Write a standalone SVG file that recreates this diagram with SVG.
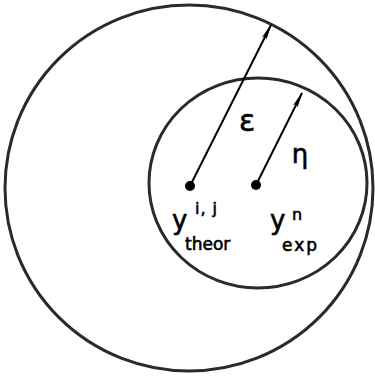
<svg xmlns="http://www.w3.org/2000/svg" width="375" height="380" viewBox="0 0 375 380">
<style>
.circ{fill:none;stroke:#2a2a2a;stroke-width:3}
.arr{stroke:#000;stroke-width:2;fill:none}
.t{font-family:"DejaVu Sans","Liberation Sans",sans-serif;fill:#000;stroke:#000;stroke-width:0.6}
</style>
<defs>
<marker id="ah" markerWidth="16" markerHeight="8" refX="15" refY="4" orient="auto" markerUnits="userSpaceOnUse" viewBox="0 0 16 8">
<path d="M0,1.5 L16,4 L0,6.5 L3,4 Z" fill="#000"/>
</marker>
</defs>
<rect width="375" height="380" fill="#fff"/>
<g id="outer"><ellipse class="circ" cx="189" cy="188" rx="184" ry="183"/></g>
<g id="inner"><ellipse class="circ" cx="258" cy="183" rx="109" ry="105"/></g>
<g id="connectors">
<line class="arr" x1="190" y1="186" x2="271" y2="25" marker-end="url(#ah)"/>
<line class="arr" x1="256" y1="185" x2="302" y2="93" marker-end="url(#ah)"/>
</g>
<g id="theor">
<circle cx="190" cy="186" r="5" fill="#000"/>
<text class="t" x="172" y="229" font-size="26">y</text>
<text class="t" x="195" y="214" font-size="16" letter-spacing="1">i, j</text>
<text class="t" x="185" y="250" font-size="17">theor</text>
</g>
<g id="exp">
<circle cx="256" cy="185" r="5" fill="#000"/>
<text class="t" x="270" y="229" font-size="26">y</text>
<text class="t" x="292" y="220" font-size="16">n</text>
<text class="t" x="282" y="251" font-size="17" letter-spacing="2">exp</text>
</g>
<g id="labels">
<text class="t" x="247" y="131" font-size="30" text-anchor="middle">ε</text>
<text class="t" x="300" y="163" font-size="26" text-anchor="middle">η</text>
</g>
</svg>
